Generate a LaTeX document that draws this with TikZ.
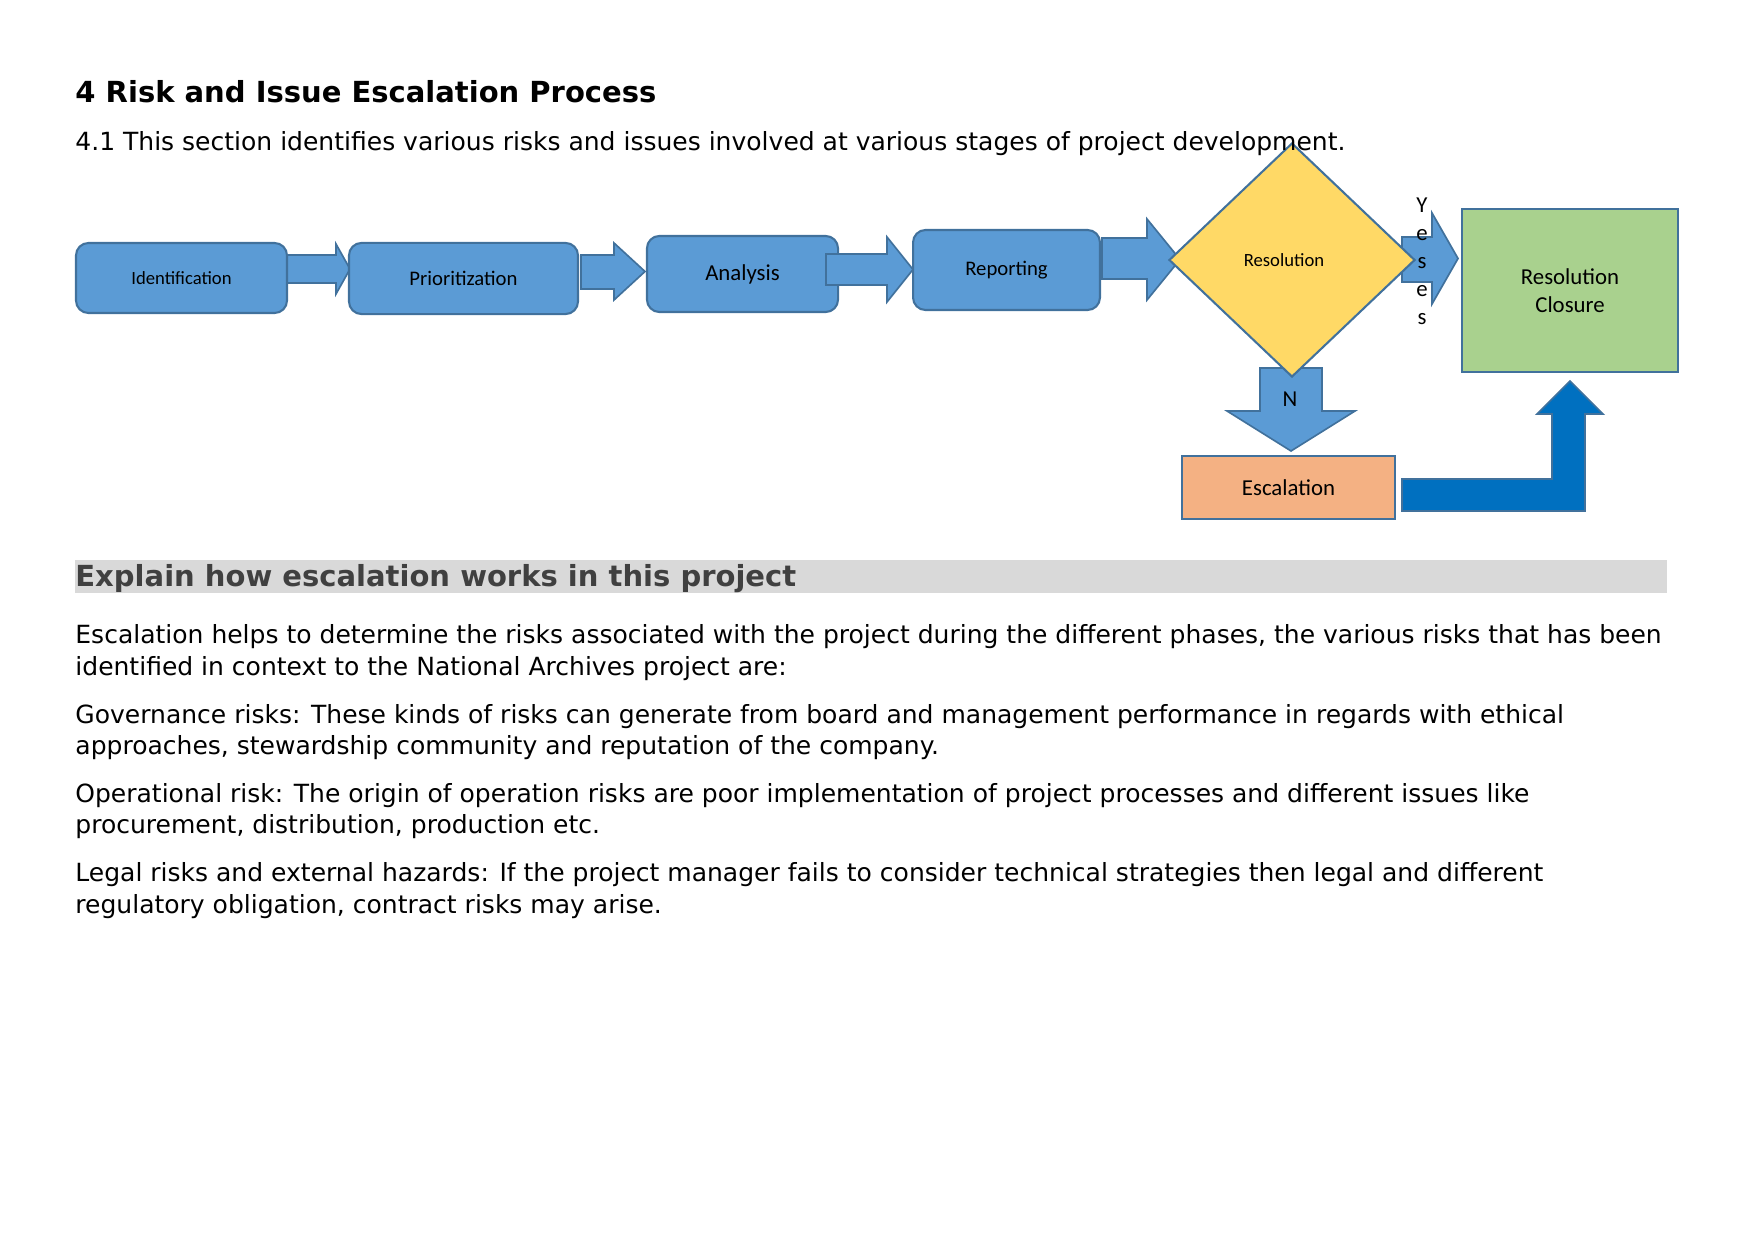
\documentclass[tikz,border=0pt]{standalone}
\usepackage{fontspec}
\setmainfont{DejaVu Sans}
\newfontfamily\calibri{Carlito}
\usetikzlibrary{shapes.geometric}
\definecolor{boxblue}{HTML}{5B9BD5}
\definecolor{edgeblue}{HTML}{41719C}
\definecolor{diayellow}{HTML}{FFD966}
\definecolor{closegreen}{HTML}{A9D18E}
\definecolor{escorange}{HTML}{F4B183}
\definecolor{bentblue}{HTML}{0070C0}
\definecolor{headgray}{HTML}{D9D9D9}
\definecolor{headtext}{HTML}{404040}
\begin{document}
\begin{tikzpicture}[x=0.4825pt, y=-0.4825pt,
  stage/.style={draw=edgeblue, fill=boxblue, line width=1pt, rounded corners=6pt, inner sep=0pt},
  flatbox/.style={draw=edgeblue, line width=1pt, inner sep=0pt},
  blockarrow/.style={draw=edgeblue, fill=boxblue, line width=0.8pt, line join=miter},
  bodytext/.style={anchor=base west, inner sep=0pt, font=\fontsize{12.07}{14}\selectfont}]
\useasboundingbox (0,0) rectangle (1754,1241);

% Block arrows (behind the shapes)
\draw[blockarrow] (287,255) -- (336,255) -- (336,244) -- (350,269) -- (336,294) -- (336,283) -- (287,283) -- cycle;
\draw[blockarrow] (581,255) -- (614,255) -- (614,243) -- (645,271.5) -- (614,300) -- (614,289) -- (581,289) -- cycle;
\draw[blockarrow] (1102,238) -- (1147,238) -- (1147,219) -- (1180,259.5) -- (1147,300) -- (1147,279) -- (1102,279) -- cycle;
\draw[blockarrow] (1402,237) -- (1432,237) -- (1432,213) -- (1458,258.5) -- (1432,304) -- (1432,282) -- (1402,282) -- cycle;
\draw[blockarrow] (1260,368) -- (1322,368) -- (1322,411) -- (1355,411) -- (1291,451) -- (1227,411) -- (1260,411) -- cycle;
\draw[draw=edgeblue, fill=bentblue, line width=0.8pt] (1402,479) -- (1552,479) -- (1552,414) -- (1537,414) -- (1570,381) -- (1603,414) -- (1585,414) -- (1585,511) -- (1402,511) -- cycle;

% Process stages
\node[stage, minimum width=101.8pt, minimum height=33.8pt, font=\calibri\fontsize{9}{11}\selectfont] (ident) at (181.5,278) {Identification};
\node[stage, minimum width=110.5pt, minimum height=34.3pt, font=\calibri\fontsize{10}{12}\selectfont] (prior) at (463.5,278.5) {Prioritization};
\node[stage, minimum width=92.2pt, minimum height=36.7pt, font=\calibri\fontsize{11}{13}\selectfont] (analysis) at (742.5,274) {Analysis};
\node[stage, minimum width=90.2pt, minimum height=38.6pt, font=\calibri\fontsize{10}{12}\selectfont] (report) at (1006.5,270) {Reporting};

% this one sits over the Analysis box
\draw[blockarrow] (826,254) -- (887,254) -- (887,237) -- (913,269.5) -- (887,302) -- (887,285) -- (826,285) -- cycle;

% Decision and outcomes
\node[diamond, draw=edgeblue, fill=diayellow, line width=1pt, inner sep=0pt, shape aspect=1.05, minimum width=118.7pt, minimum height=112.9pt] (resol) at (1292,260) {};
\node[inner sep=0pt, font=\calibri\fontsize{9}{11}\selectfont] (resoltext) at (1284,260) {Resolution};
\node[flatbox, fill=closegreen, minimum width=104.2pt, minimum height=78.6pt, align=center, font=\calibri\fontsize{11}{13.5}\selectfont] (closure) at (1570,290.5) {Resolution\\Closure};
\node[flatbox, fill=escorange, minimum width=102.8pt, minimum height=30.4pt, font=\calibri\fontsize{11}{13}\selectfont] (escal) at (1288.5,487.5) {Escalation};

% Branch labels
\node[align=center, inner sep=0pt, font=\calibri\fontsize{11}{13.5}\selectfont] (yes) at (1422,261) {Y\\e\\s\\e\\s};
\node[inner sep=0pt, font=\calibri\fontsize{11}{13}\selectfont] (no) at (1290,399) {N};

% Text
\node[anchor=base west, inner sep=0pt, font=\bfseries\fontsize{14}{17}\selectfont] (title) at (75,103) {4 Risk and Issue Escalation Process};
\node[bodytext] (intro) at (75,151) {4.1 This section identifies various risks and issues involved at various stages of project development.};
\fill[headgray] (75,560) rectangle (1667,593);
\node[anchor=base west, inner sep=0pt, text=headtext, font=\bfseries\fontsize{14}{17}\selectfont] (head) at (75,586) {Explain how escalation works in this project};
\node[bodytext] (p1a) at (75,643) {Escalation helps to determine the risks associated with the project during the different phases, the various risks that has been};
\node[bodytext] (p1b) at (75,675) {identified in context to the National Archives project are:};
\node[bodytext] (p2a) at (75,723) {Governance risks: These kinds of risks can generate from board and management performance in regards with ethical};
\node[bodytext] (p2b) at (75,754) {approaches, stewardship community and reputation of the company.};
\node[bodytext] (p3a) at (75,802) {Operational risk: The origin of operation risks are poor implementation of project processes and different issues like};
\node[bodytext] (p3b) at (75,833) {procurement, distribution, production etc.};
\node[bodytext] (p4a) at (75,881) {Legal risks and external hazards: If the project manager fails to consider technical strategies then legal and different};
\node[bodytext] (p4b) at (75,913) {regulatory obligation, contract risks may arise.};
\end{tikzpicture}
\end{document}
